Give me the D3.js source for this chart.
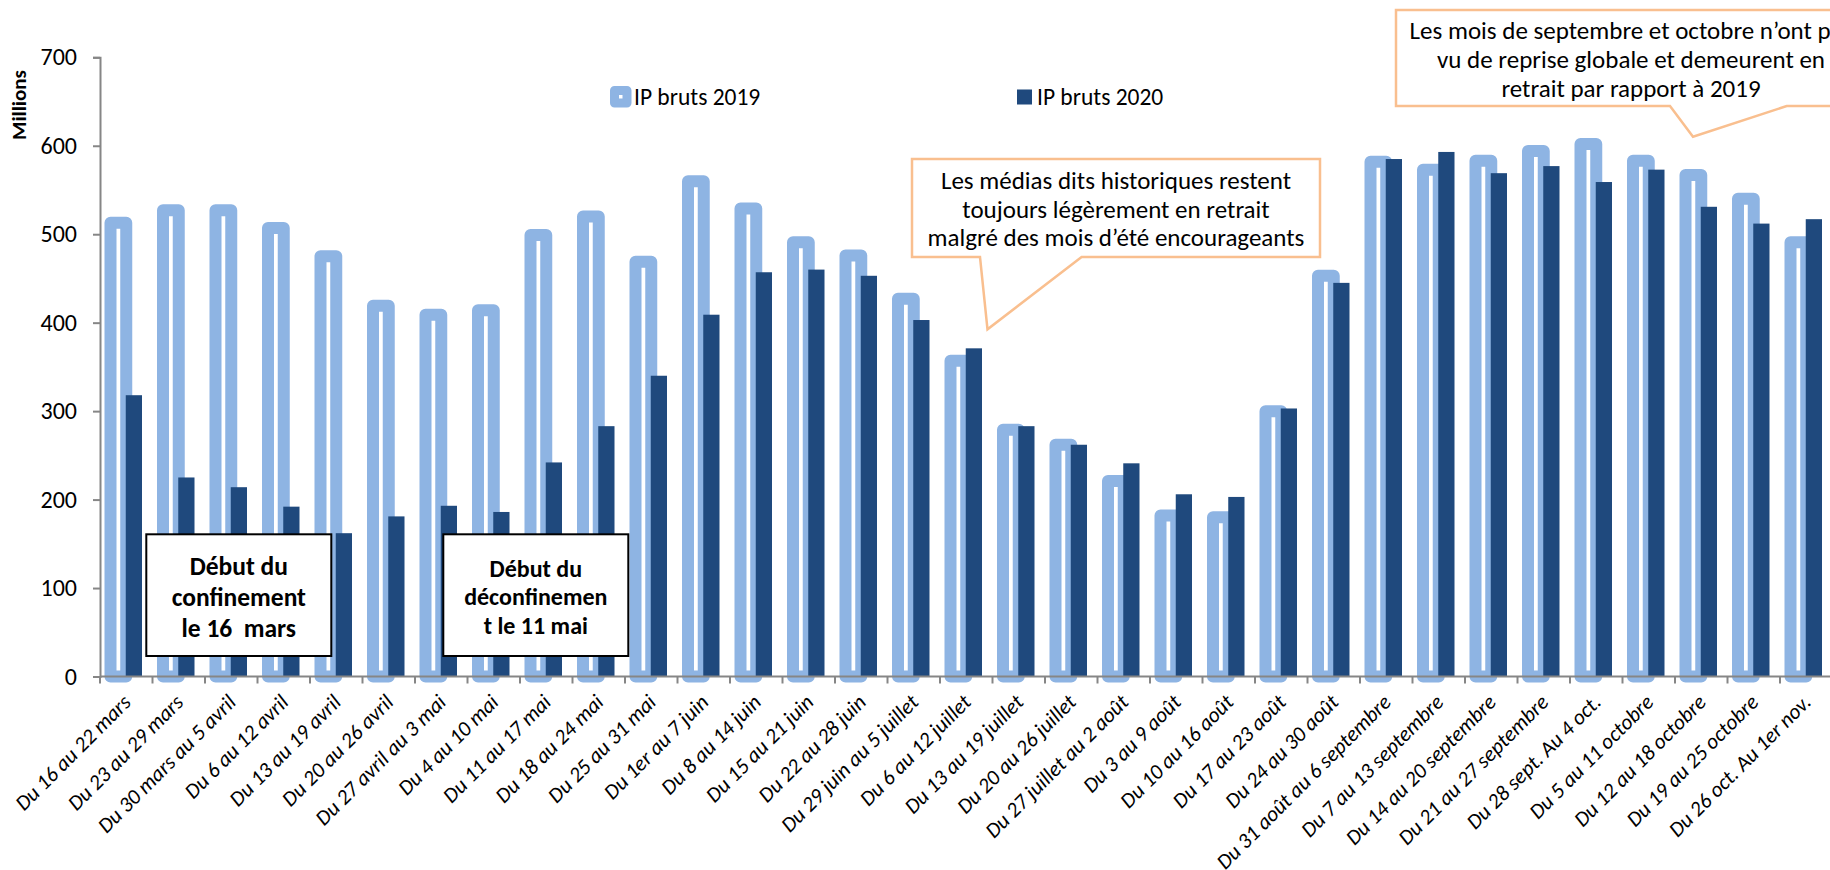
<!DOCTYPE html>
<html>
<head>
<meta charset="utf-8">
<script src="https://cdn.jsdelivr.net/npm/d3@7/dist/d3.min.js"></script>
<style>
  html, body { margin: 0; padding: 0; background: #ffffff; }
  svg { display: block; }
  text { font-family: Carlito, Calibri, Lato, sans-serif; fill: #000; white-space: pre; }
</style>
</head>
<body>
<svg id="chart" width="1830" height="870"></svg>
<script>
// Weekly gross ad spend (IP bruts), in millions
const weeks = [
  "Du 16 au 22 mars", "Du 23 au 29 mars", "Du 30 mars au 5 avril", "Du 6 au 12 avril",
  "Du 13 au 19 avril", "Du 20 au 26 avril", "Du 27 avril au 3 mai", "Du 4 au 10 mai",
  "Du 11 au 17 mai", "Du 18 au 24 mai", "Du 25 au 31 mai", "Du 1er au 7 juin",
  "Du 8 au 14 juin", "Du 15 au 21 juin", "Du 22 au 28 juin", "Du 29 juin au 5 juillet",
  "Du 6 au 12 juillet", "Du 13 au 19 juillet", "Du 20 au 26 juillet", "Du 27 juillet au 2 août",
  "Du 3 au 9 août", "Du 10 au 16 août", "Du 17 au 23 août", "Du 24 au 30 août",
  "Du 31 août au 6 septembre", "Du 7 au 13 septembre", "Du 14 au 20 septembre", "Du 21 au 27 septembre",
  "Du 28 sept. Au 4 oct.", "Du 5 au 11 octobre", "Du 12 au 18 octobre", "Du 19 au 25 octobre",
  "Du 26 oct. Au 1er nov."
];
const ip2019 = [513, 527, 527, 507, 475, 419, 409, 414, 499, 520, 469, 560, 529, 491, 476, 427,
                357, 279, 262, 221, 182, 180, 300, 453, 582, 573, 583, 594, 602, 583, 567, 540, 491];
const ip2020 = [318, 225, 214, 192, 162, 181, 193, 186, 242, 283, 340, 409, 457, 460, 453, 403,
                371, 283, 262, 241, 206, 203, 303, 445, 585, 593, 569, 577, 559, 573, 531, 512, 517];
const seriesNames = ["IP bruts 2019", "IP bruts 2020"];
const yTicks = [0, 100, 200, 300, 400, 500, 600, 700];
const yTitle = "Millions";

const noteSummer = ["Les médias dits historiques restent", "toujours légèrement en retrait", "malgré des mois d’été encourageants"];
const noteAutumn = ["Les mois de septembre et octobre n’ont pas", "vu de reprise globale et demeurent en", "retrait par rapport à 2019"];
const noteLockdown = ["Début du", "confinement", "le 16  mars"];
const noteUnlock = ["Début du", "déconfinemen", "t le 11 mai"];

const C19 = "#8eb4e3", C20 = "#1f497d", AXIS = "#868686", NOTE = "#f9bf8f";

const svg = d3.select("#chart");
const plotLeft = 100, plotRight = 1832.5, plotTop = 57.3, plotBottom = 676.5;

const x = d3.scaleBand().domain(weeks).range([plotLeft, plotRight]).padding(0);
const pairW = 31.5;
const x1 = d3.scaleBand().domain(seriesNames).range([0, pairW]).padding(0);
const y = d3.scaleLinear().domain([0, 700]).range([plotBottom, plotTop]);
const off = (x.bandwidth() - pairW) / 2;

// 2019 bars: thick rounded outline around a narrow white core
svg.append("g").selectAll("rect").data(weeks).join("rect")
  .attr("x", d => x(d) + off + x1(seriesNames[0]))
  .attr("width", x1.bandwidth())
  .attr("y", (d, i) => y(ip2019[i]))
  .attr("height", (d, i) => y(0) - y(ip2019[i]))
  .attr("fill", "#ffffff")
  .attr("stroke", C19)
  .attr("stroke-width", 12)
  .attr("stroke-linejoin", "round");

// 2020 bars
svg.append("g").selectAll("rect").data(weeks).join("rect")
  .attr("x", d => x(d) + off + x1(seriesNames[1]) - 0.5)
  .attr("width", x1.bandwidth() + 0.5)
  .attr("y", (d, i) => y(ip2020[i]))
  .attr("height", (d, i) => y(0) - y(ip2020[i]))
  .attr("fill", C20);

// Y axis
const yAxis = svg.append("g").attr("transform", `translate(${plotLeft},0)`)
  .call(d3.axisLeft(y).tickValues(yTicks).tickSize(7).tickPadding(16).tickFormat(d3.format("d")));
yAxis.select(".domain").attr("stroke", AXIS).attr("stroke-width", 2);
yAxis.selectAll(".tick line").attr("stroke", AXIS).attr("stroke-width", 2);
yAxis.selectAll(".tick text").attr("font-size", 24).attr("fill", "#000")
  .style("font-family", "Carlito, Calibri, Lato, sans-serif");

// X axis: ticks between categories
const xg = svg.append("g");
xg.append("line").attr("x1", plotLeft).attr("x2", plotRight).attr("y1", plotBottom).attr("y2", plotBottom)
  .attr("stroke", AXIS).attr("stroke-width", 2);
xg.selectAll("line.tk").data(d3.range(weeks.length + 1)).join("line")
  .attr("class", "tk")
  .attr("x1", i => plotLeft + i * x.bandwidth()).attr("x2", i => plotLeft + i * x.bandwidth())
  .attr("y1", plotBottom).attr("y2", plotBottom + 7)
  .attr("stroke", AXIS).attr("stroke-width", 2);
xg.selectAll("text").data(weeks).join("text")
  .attr("transform", d => `translate(${x(d) + x.bandwidth() / 2 + 6},${plotBottom + 27}) rotate(-45)`)
  .attr("text-anchor", "end")
  .attr("font-size", 21.5)
  .attr("font-style", "italic")
  .text(d => d);

// Axis title
svg.append("text")
  .attr("transform", "translate(26,105) rotate(-90)")
  .attr("text-anchor", "middle")
  .attr("font-size", 21).attr("font-weight", "bold")
  .text(yTitle);

// Legend
const lg = svg.append("g");
lg.append("rect").attr("x", 614.5).attr("y", 90.5).attr("width", 12.5).attr("height", 12.5)
  .attr("fill", "#fff").attr("stroke", C19).attr("stroke-width", 9).attr("stroke-linejoin", "round");
lg.append("text").attr("x", 634).attr("y", 105).attr("font-size", 23.5).text(seriesNames[0]);
lg.append("rect").attr("x", 1017).attr("y", 89.5).attr("width", 15).attr("height", 15).attr("fill", C20);
lg.append("text").attr("x", 1037).attr("y", 105).attr("font-size", 23.5).text(seriesNames[1]);

// Callouts with pointers
function callout(x0, y0, xr, yb, baseA, tip, baseB, lines, cx, firstY, lh) {
  svg.append("path")
    .attr("d", `M${x0},${y0}H${xr}V${yb}H${baseB}L${tip[0]},${tip[1]}L${baseA},${yb}H${x0}Z`)
    .attr("fill", "#fff").attr("stroke", NOTE).attr("stroke-width", 2.5);
  svg.append("g").selectAll("text").data(lines).join("text")
    .attr("x", cx).attr("y", (d, i) => firstY + i * lh)
    .attr("text-anchor", "middle").attr("font-size", 25)
    .text(d => d);
}
callout(912, 159, 1320, 257, 980, [987.5, 329.3], 1081.6, noteSummer, 1116, 189, 28.7);
callout(1396, 10, 1866, 106, 1670, [1693, 136.7], 1786.7, noteAutumn, 1631, 39, 29);

// Boxed labels
function box(x0, y0, w, h, lines, fs, firstY, lh) {
  svg.append("rect").attr("x", x0).attr("y", y0).attr("width", w).attr("height", h)
    .attr("fill", "#fff").attr("stroke", "#000").attr("stroke-width", 2);
  svg.append("g").selectAll("text").data(lines).join("text")
    .attr("x", x0 + w / 2).attr("y", (d, i) => firstY + i * lh)
    .attr("text-anchor", "middle").attr("font-size", fs).attr("font-weight", "bold")
    .text(d => d);
}
box(146.3, 534.3, 185, 121.7, noteLockdown, 25.5, 575, 31);
box(443.3, 534.3, 185, 121.7, noteUnlock, 24, 577, 28.4);
</script>
</body>
</html>
